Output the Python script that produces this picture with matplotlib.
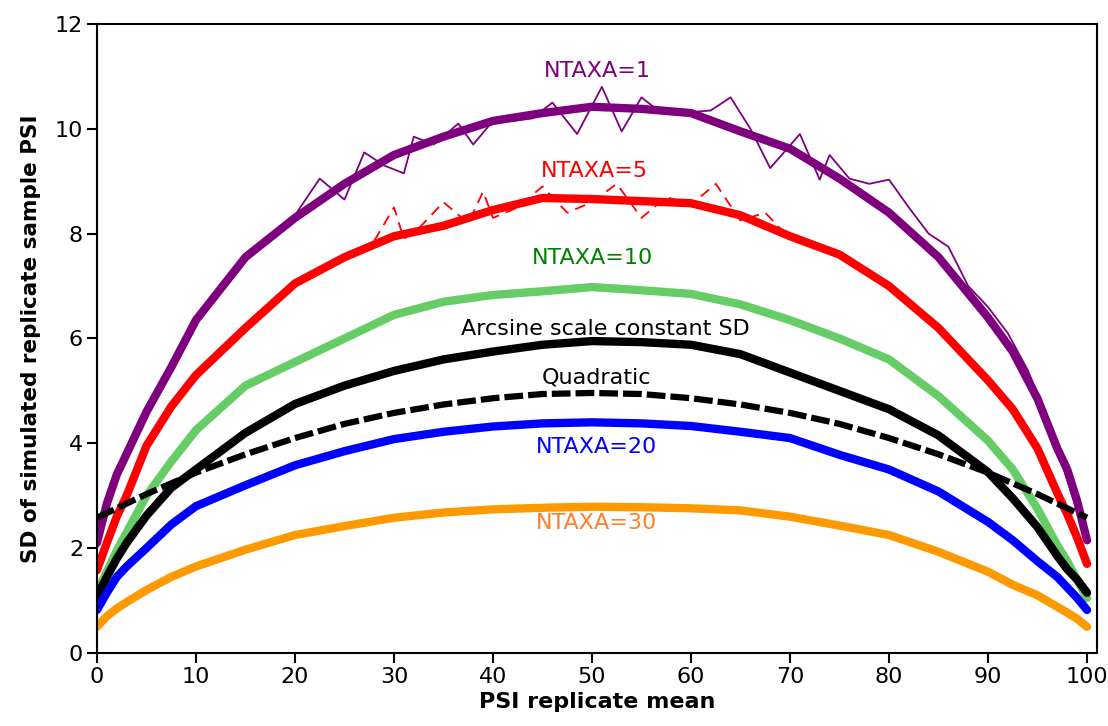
import matplotlib
matplotlib.use("Agg")
import matplotlib.pyplot as plt

# PSI replicate mean grid (curves)
x = [0, 1, 2, 3, 5, 7.5, 10, 15, 20, 25, 30, 35, 40, 45, 50, 55, 60, 65, 70,
     75, 80, 85, 90, 92.5, 95, 97, 98, 99, 100]

sd_ntaxa1 = [2.1, 2.85, 3.4, 3.8, 4.6, 5.45, 6.35, 7.55, 8.3, 8.95, 9.5, 9.85,
             10.15, 10.3, 10.42, 10.38, 10.3, 9.95, 9.62, 9.05, 8.4, 7.55, 6.4,
             5.75, 4.85, 3.9, 3.5, 2.9, 2.15]
sd_ntaxa5 = [1.58, 2.1, 2.6, 3.0, 3.95, 4.7, 5.3, 6.2, 7.05, 7.55, 7.95, 8.15,
             8.45, 8.68, 8.66, 8.62, 8.58, 8.35, 7.95, 7.6, 7.0, 6.2, 5.2,
             4.65, 3.9, 3.05, 2.65, 2.2, 1.7]
sd_ntaxa10 = [1.15, 1.55, 1.95, 2.3, 3.0, 3.65, 4.25, 5.1, 5.55, 6.0, 6.45, 6.7,
              6.83, 6.9, 6.98, 6.92, 6.85, 6.65, 6.35, 6.0, 5.6, 4.9, 4.05,
              3.5, 2.75, 2.05, 1.75, 1.4, 1.05]
sd_arcsine = [1.08, 1.45, 1.8, 2.1, 2.62, 3.15, 3.5, 4.2, 4.75, 5.1, 5.38, 5.6,
              5.75, 5.88, 5.95, 5.93, 5.88, 5.7, 5.35, 5.0, 4.65, 4.15, 3.45,
              2.95, 2.4, 1.85, 1.6, 1.4, 1.15]
sd_ntaxa20 = [0.82, 1.15, 1.45, 1.65, 2.0, 2.45, 2.8, 3.2, 3.58, 3.85, 4.08, 4.22,
              4.32, 4.38, 4.4, 4.38, 4.33, 4.22, 4.1, 3.78, 3.5, 3.08, 2.5,
              2.15, 1.75, 1.45, 1.25, 1.05, 0.82]
sd_ntaxa30 = [0.5, 0.7, 0.85, 0.97, 1.2, 1.45, 1.65, 1.97, 2.25, 2.42, 2.58, 2.68,
              2.74, 2.77, 2.79, 2.78, 2.76, 2.72, 2.6, 2.43, 2.25, 1.93, 1.55,
              1.3, 1.1, 0.88, 0.77, 0.65, 0.5]

# quadratic fit (dashed)
x_quad = [0, 5, 10, 15, 20, 25, 30, 35, 40, 45, 50, 55, 60, 65, 70, 75, 80,
          85, 90, 95, 100]
sd_quad = [2.58, 3.03, 3.44, 3.79, 4.10, 4.37, 4.58, 4.74, 4.86, 4.94, 4.96,
           4.94, 4.86, 4.74, 4.58, 4.37, 4.10, 3.79, 3.44, 3.03, 2.58]

# one noisy replicate trace for NTAXA=1
x_rep1 = [0, 2, 5, 10, 15, 18, 20, 22.5, 25, 27, 29, 31, 32, 34, 36.5, 38, 40,
          42, 44, 46, 48.5, 51, 53, 55, 57, 59, 62, 64, 66, 68, 71, 73, 74, 76,
          78, 80, 82, 84, 86, 88, 90, 92, 94, 96, 98, 100]
sd_rep1 = [2.0, 3.3, 4.6, 6.4, 7.5, 8.0, 8.35, 9.05, 8.65, 9.55, 9.3, 9.15,
           9.85, 9.7, 10.1, 9.7, 10.15, 10.15, 10.2, 10.5, 9.9, 10.8, 9.95,
           10.6, 10.3, 10.3, 10.35, 10.6, 10.0, 9.25, 9.9, 9.03, 9.5, 9.05,
           8.95, 9.03, 8.5, 8.0, 7.75, 7.0, 6.6, 6.1, 5.4, 4.5, 3.3, 2.1]

# one dashed replicate trace for NTAXA=5
x_rep5 = [25, 27.5, 30, 31, 32.5, 35, 37.5, 39, 40, 42.5, 45, 47.5, 50, 52.5,
          55, 57.5, 60, 62.5, 65, 67.5, 70]
sd_rep5 = [7.55, 7.7, 8.5, 7.9, 8.1, 8.6, 8.2, 8.8, 8.3, 8.5, 8.9, 8.4, 8.6,
           8.95, 8.3, 8.7, 8.55, 8.95, 8.25, 8.4, 7.9]

series = [
    (sd_ntaxa1, "#7f007f"),
    (sd_ntaxa5, "#ff0000"),
    (sd_ntaxa10, "#66cc66"),
    (sd_arcsine, "#000000"),
    (sd_ntaxa20, "#0000ff"),
    (sd_ntaxa30, "#ff9900"),
]

labels = [
    ("NTAXA=1", 50.5, 11.1, "#7f007f"),
    ("NTAXA=5", 50.2, 9.2, "#ff0000"),
    ("NTAXA=10", 50.1, 7.54, "#008000"),
    ("Arcsine scale constant SD", 51.4, 6.18, "#000000"),
    ("Quadratic", 50.5, 5.25, "#000000"),
    ("NTAXA=20", 50.5, 3.93, "#0000ff"),
    ("NTAXA=30", 50.5, 2.48, "#ff7f27"),
]

fig = plt.figure(figsize=(11.08, 7.26), dpi=100)
ax = fig.add_axes([0.0875, 0.1006, 0.9025, 0.8664])

for ys, col in series:
    ax.plot(x, ys, color=col, lw=6, solid_capstyle="round")
ax.plot(x_rep1, sd_rep1, color="#7f007f", lw=1.3)
ax.plot(x_rep5, sd_rep5, color="#ff0000", lw=1.3, ls=(0, (6, 4)))
ax.plot(x_quad, sd_quad, color="black", lw=4.5, ls=(0, (3, 0.8)))

for txt, tx, ty, col in labels:
    ax.text(tx, ty, txt, color=col, fontsize=16, ha="center", va="center")

ax.set_xlim(0, 101)
ax.set_ylim(0, 12)
ax.set_xticks(range(0, 101, 10))
ax.set_yticks(range(0, 13, 2))
ax.tick_params(labelsize=16, length=7, width=1.5, direction="out", pad=3)
for sp in ax.spines.values():
    sp.set_linewidth(1.5)
ax.set_xlabel("PSI replicate mean", fontsize=16, fontweight="bold", labelpad=4)
ax.set_ylabel("SD of simulated replicate sample PSI", fontsize=15.5,
              fontweight="bold", labelpad=10)

fig.savefig("out.png", dpi=100)
